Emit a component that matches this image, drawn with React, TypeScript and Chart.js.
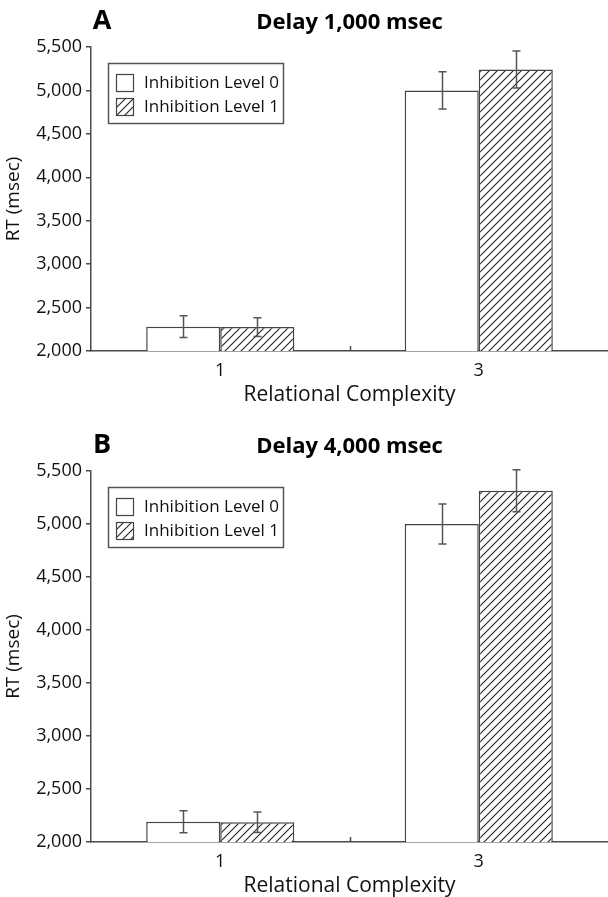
import React, { useEffect, useRef } from 'react';
import { Chart, registerables } from 'chart.js';
Chart.register(...registerables);

const categories = ['1', '3'];
const seriesNames = ['Inhibition Level 0', 'Inhibition Level 1'];
const yMin = 2000;
const yMax = 5500;
const yStep = 500;

const delay1000Level0 = [2280, 5000];
const delay1000Level0Err = [125, 215];
const delay1000Level1 = [2276, 5241];
const delay1000Level1Err = [108, 213];

const delay4000Level0 = [2191, 5000];
const delay4000Level0Err = [104, 189];
const delay4000Level1 = [2186, 5314];
const delay4000Level1Err = [96, 198];

const FONT = '"Open Sans", "DejaVu Sans", sans-serif';
const AXIS = '#4a4a4a';

function makeHatch(): CanvasPattern | string {
  const s = 8;
  const c = document.createElement('canvas');
  c.width = s;
  c.height = s;
  const g = c.getContext('2d');
  if (!g) return '#fff';
  g.fillStyle = '#fff';
  g.fillRect(0, 0, s, s);
  g.strokeStyle = '#222';
  g.lineWidth = 1.1;
  g.beginPath();
  g.moveTo(0, s);
  g.lineTo(s, 0);
  g.moveTo(-s / 2, s / 2);
  g.lineTo(s / 2, -s / 2);
  g.moveTo(s / 2, s * 1.5);
  g.lineTo(s * 1.5, s / 2);
  g.stroke();
  return g.createPattern(c, 'repeat') || '#fff';
}

type PanelProps = {
  top: number;
  height: number;
  letter: string;
  title: string;
  level0: number[];
  level0Err: number[];
  level1: number[];
  level1Err: number[];
  areaTop: number;
  xAxisHeight: number;
};

function Panel(p: PanelProps) {
  const ref = useRef<HTMLCanvasElement>(null);
  useEffect(() => {
    const canvas = ref.current;
    if (!canvas) return;
    const hatch = makeHatch();
    const errs = [p.level0Err, p.level1Err];
    const vals = [p.level0, p.level1];

    const decor = {
      id: 'decor',
      afterDatasetsDraw(chart: any) {
        const ctx = chart.ctx;
        const y = chart.scales.y;
        const x = chart.scales.x;
        const a = chart.chartArea;
        ctx.save();
        // error bars
        ctx.strokeStyle = '#555';
        ctx.lineWidth = 1.5;
        for (let i = 0; i < 2; i++) {
          const meta = chart.getDatasetMeta(i);
          meta.data.forEach((el: any, j: number) => {
            const v = vals[i][j];
            const e = errs[i][j];
            const yt = y.getPixelForValue(v + e);
            const yb = y.getPixelForValue(v - e);
            const cx = Math.round(el.x) + 0.5;
            ctx.beginPath();
            ctx.moveTo(cx, yt);
            ctx.lineTo(cx, yb);
            ctx.moveTo(cx - 4, yt);
            ctx.lineTo(cx + 4, yt);
            ctx.moveTo(cx - 4, yb);
            ctx.lineTo(cx + 4, yb);
            ctx.stroke();
          });
        }
        // middle tick on x axis
        const mx = Math.round(x.getPixelForValue(0.5)) + 0.5;
        ctx.strokeStyle = AXIS;
        ctx.lineWidth = 1.5;
        ctx.beginPath();
        ctx.moveTo(mx, a.bottom);
        ctx.lineTo(mx, a.bottom - 5);
        ctx.stroke();

        // legend
        const lx = a.left + 17;
        const ly = a.top + 16;
        ctx.strokeStyle = '#555';
        ctx.lineWidth = 1.5;
        ctx.strokeRect(lx + 0.5, ly + 0.5, 175, 60);
        const fills = ['#fff', hatch];
        ctx.font = `17px ${FONT}`;
        ctx.textBaseline = 'middle';
        ctx.textAlign = 'left';
        for (let i = 0; i < 2; i++) {
          const sy = ly + 11 + i * 24;
          ctx.fillStyle = fills[i] as any;
          ctx.fillRect(lx + 8, sy, 17, 17);
          ctx.strokeStyle = '#444';
          ctx.lineWidth = 1.2;
          ctx.strokeRect(lx + 8.5, sy + 0.5, 17, 17);
          ctx.fillStyle = '#111';
          ctx.fillText(seriesNames[i], lx + 36, sy + 9);
        }

        // titles
        ctx.fillStyle = '#000';
        ctx.textAlign = 'center';
        ctx.font = `bold 27px ${FONT}`;
        ctx.fillText(p.letter, 102, a.top - 26);
        ctx.font = `bold 22px ${FONT}`;
        ctx.fillText(p.title, (a.left + a.right) / 2, a.top - 24);

        // axis titles
        ctx.fillStyle = '#111';
        ctx.font = `21px ${FONT}`;
        ctx.fillText('Relational Complexity', (a.left + a.right) / 2, a.bottom + 44);
        ctx.save();
        ctx.translate(14, (a.top + a.bottom) / 2);
        ctx.rotate(-Math.PI / 2);
        ctx.font = `19px ${FONT}`;
        ctx.fillText('RT (msec)', 0, 0);
        ctx.restore();
        ctx.restore();
      },
    };

    const chart = new Chart(canvas, {
      type: 'bar',
      data: {
        labels: categories,
        datasets: [
          {
            label: seriesNames[0],
            data: p.level0,
            backgroundColor: '#fff',
            borderColor: '#444',
            borderWidth: 1.5,
            borderSkipped: false,
            categoryPercentage: 0.573,
            barPercentage: 1,
          },
          {
            label: seriesNames[1],
            data: p.level1,
            backgroundColor: hatch as any,
            borderColor: '#444',
            borderWidth: 1.5,
            borderSkipped: false,
            categoryPercentage: 0.573,
            barPercentage: 1,
          },
        ],
      },
      options: {
        responsive: false,
        animation: false,
        devicePixelRatio: 1,
        layout: { padding: { top: p.areaTop, left: 0, right: 0, bottom: 0 } },
        plugins: {
          legend: { display: false },
          title: { display: false },
          tooltip: { enabled: false },
        },
        scales: {
          x: {
            type: 'category',
            offset: true,
            grid: { display: false, drawTicks: false },
            border: { display: true, color: AXIS, width: 1.5 },
            ticks: {
              color: '#111',
              font: { family: FONT, size: 18 },
              padding: 9,
              maxRotation: 0,
            },
            afterFit(scale: any) {
              scale.height = p.xAxisHeight;
            },
          },
          y: {
            min: yMin,
            max: yMax,
            grid: {
              display: true,
              drawOnChartArea: false,
              drawTicks: true,
              tickLength: 5,
              color: AXIS,
              lineWidth: 1.5,
            },
            border: { display: true, color: AXIS, width: 1.5 },
            ticks: {
              stepSize: yStep,
              color: '#111',
              padding: 4,
              font: { family: FONT, size: 18 },
              callback: (v: any) => Number(v).toLocaleString('en-US'),
            },
            afterFit(scale: any) {
              scale.width = 91;
            },
          },
        },
      },
      plugins: [decor],
    });
    return () => chart.destroy();
  }, []);
  return (
    <canvas
      ref={ref}
      width={608}
      height={p.height}
      style={{ position: 'absolute', left: 0, top: p.top, width: 608, height: p.height }}
    />
  );
}

export default function App() {
  return (
    <div style={{ position: 'absolute', left: 0, top: 0, width: 608, height: 897, background: '#fff' }}>
      <Panel
        top={0}
        height={430}
        letter="A"
        title="Delay 1,000 msec"
        level0={delay1000Level0}
        level0Err={delay1000Level0Err}
        level1={delay1000Level1}
        level1Err={delay1000Level1Err}
        areaTop={47}
        xAxisHeight={79}
      />
      <Panel
        top={430}
        height={467}
        letter="B"
        title="Delay 4,000 msec"
        level0={delay4000Level0}
        level0Err={delay4000Level0Err}
        level1={delay4000Level1}
        level1Err={delay4000Level1Err}
        areaTop={41}
        xAxisHeight={55}
      />
    </div>
  );
}
